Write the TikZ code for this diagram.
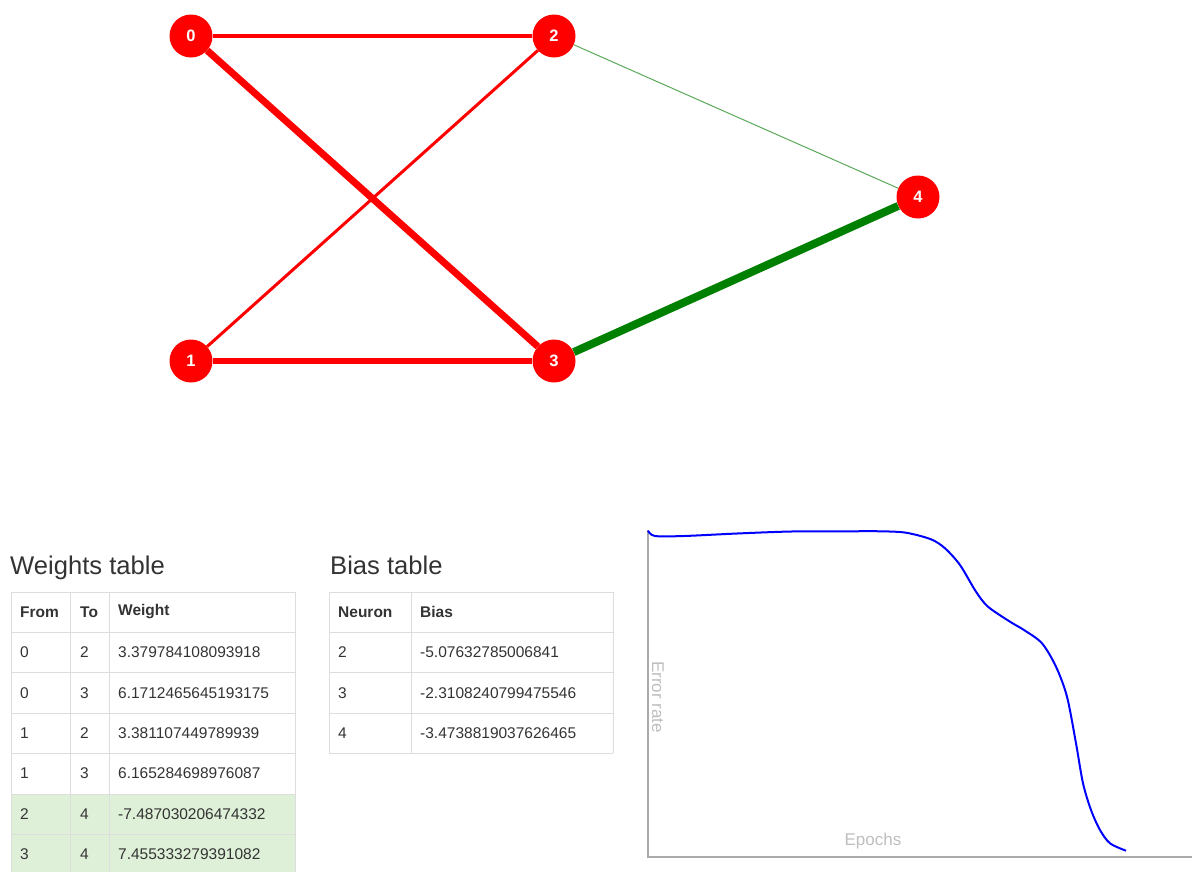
\documentclass[tikz,border=0pt]{standalone}
\usepackage{fontspec}
\setmainfont{Liberation Sans}
\usepackage{xcolor}
\definecolor{neuronred}{RGB}{255,0,0}
\definecolor{posgreen}{RGB}{0,128,0}
\definecolor{neggreen}{RGB}{90,170,90}
\definecolor{rowgreen}{RGB}{223,240,216}
\definecolor{cellline}{RGB}{221,221,221}
\definecolor{tabletext}{RGB}{51,51,51}
\definecolor{axisgray}{RGB}{170,170,170}
\definecolor{labelgray}{RGB}{190,190,190}
\tikzset{
  neuron/.style={circle, fill=neuronred, minimum size=43pt, inner sep=0pt, text=white, font=\fontsize{16.5}{17}\selectfont\bfseries},
  cell/.style={anchor=west, inner sep=0pt, text=tabletext, font=\fontsize{15.5}{18}\selectfont},
  headcell/.style={cell, font=\fontsize{15.5}{18}\selectfont\bfseries},
  tabletitle/.style={anchor=base west, inner sep=0pt, text=tabletext, font=\fontsize{25.6}{28}\selectfont},
  axislabel/.style={inner sep=0pt, text=labelgray, font=\fontsize{17}{19}\selectfont}
}

\begin{document}
\begin{tikzpicture}[x=1pt,y=-1pt]
\useasboundingbox (0,0) rectangle (1192,871);

% network
\node[neuron] (n0) at (191,36) {0};
\node[neuron] (n1) at (191,361) {1};
\node[neuron] (n2) at (554,36) {2};
\node[neuron] (n3) at (554,361) {3};
\node[neuron] (n4) at (918,197) {4};
\draw[neuronred, line width=4pt] (n0) -- (n2);
\draw[neuronred, line width=7pt] (n0) -- (n3);
\draw[neuronred, line width=3pt] (n1) -- (n2);
\draw[neuronred, line width=6pt] (n1) -- (n3);
\draw[neggreen, line width=1pt] (n2) -- (n4);
\draw[posgreen, line width=8pt] (n3) -- (n4);

% weights table
\node[tabletitle] (wtitle) at (10,574) {Weights table};
\fill[rowgreen] (11,794) rectangle (295,875);
\foreach \y in {592,632,672,713,753,794,834} \draw[cellline] (11,\y) -- (295,\y);
\foreach \x in {11,70,109,295} \draw[cellline] (\x,592) -- (\x,875);
\node[headcell] (whfrom) at (20,612) {From};
\node[headcell] (whto) at (80,612) {To};
\node[headcell] (whweight) at (118,612) {Weight};
\foreach \f/\t/\w [count=\i] in {0/2/3.379784108093918, 0/3/6.1712465645193175,
    1/2/3.381107449789939, 1/3/6.165284698976087,
    2/4/-7.487030206474332, 3/4/7.455333279391082}{
  \node[cell] (wf\i) at (20,{612+40.4*\i}) {\f};
  \node[cell] (wt\i) at (80,{612+40.4*\i}) {\t};
  \node[cell] (ww\i) at (118,{612+40.4*\i}) {\w};
}

% bias table
\node[tabletitle] (btitle) at (330,574) {Bias table};
\foreach \y in {592,632,672,713,753} \draw[cellline] (329,\y) -- (613,\y);
\foreach \x in {329,411,613} \draw[cellline] (\x,592) -- (\x,753);
\node[headcell] (bhneuron) at (338,612) {Neuron};
\node[headcell] (bhbias) at (420,612) {Bias};
\foreach \n/\b [count=\i] in {2/-5.07632785006841, 3/-2.3108240799475546, 4/-3.4738819037626465}{
  \node[cell] (bn\i) at (338,{612+40.4*\i}) {\n};
  \node[cell] (bb\i) at (420,{612+40.4*\i}) {\b};
}

% error chart
\coordinate (origin) at (648,857);
\coordinate (ytop) at (648,530);
\coordinate (xend) at (1192,857);
\draw[axisgray, line width=1.5pt] (ytop) -- (origin) -- (xend);
\node[axislabel, rotate=-90] (ylabel) at (658,697) {Error rate};
\node[axislabel] (xlabel) at (873,841) {Epochs};
\draw[blue, line width=2pt, line join=round] plot[smooth, tension=0.5] coordinates {
  (648,530.7) (655,536) (684,536) (737,533.5) (791,531.5) (845,531.3) (881,531.3)
  (906,532.7) (931,539.3) (945,548.3) (960,565) (976,591.7) (988,606.7)
  (1010,621.7) (1024,630) (1042,643.3) (1056,666.7) (1067,696.7) (1076,743.3)
  (1083,783.3) (1091,810) (1100,830) (1110,843.3) (1126,850.7)};
\end{tikzpicture}
\end{document}
